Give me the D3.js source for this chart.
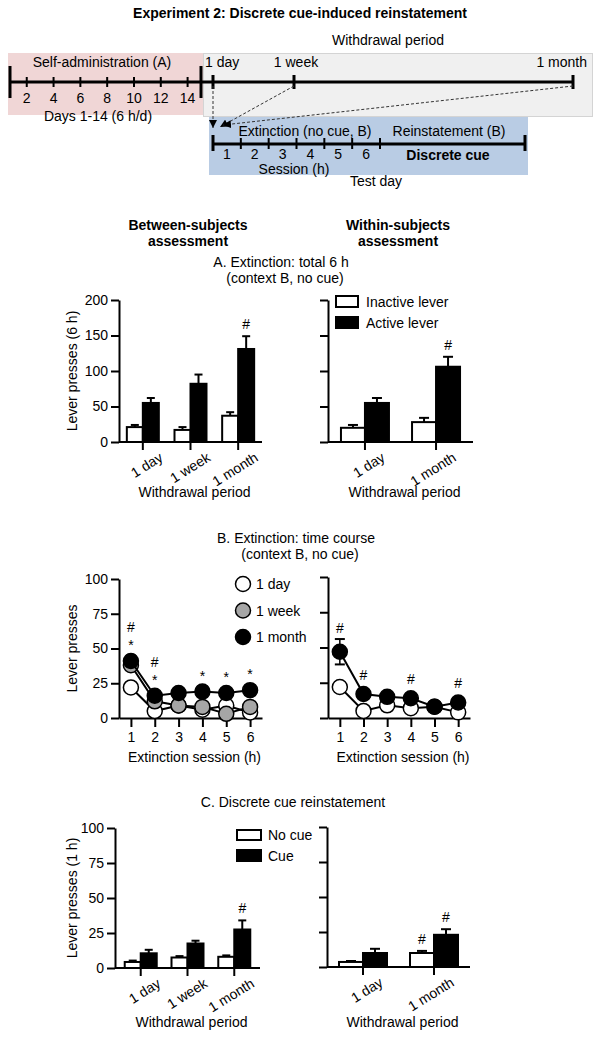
<!DOCTYPE html>
<html>
<head>
<meta charset="utf-8">
<title>Experiment 2: Discrete cue-induced reinstatement</title>
<script src="https://d3js.org/d3.v7.min.js"></script>
<style>
  body { margin: 0; background: #fff; }
  svg { display: block; }
  text { font-family: Arial, 'Liberation Sans', sans-serif; font-size: 14px; fill: #000; }
  .axis path, .axis line { stroke: #000; stroke-width: 2px; }
  .bold { font-weight: bold; }
</style>
</head>
<body>
<script>
// ---------- data ----------
const saDays = [2, 4, 6, 8, 10, 12, 14];
const withdrawalDays = [1, 7, 30];
const withdrawalLabels = ['1 day', '1 week', '1 month'];
const sessionHours = [1, 2, 3, 4, 5, 6];

const periodsBetween = ['1 day', '1 week', '1 month'];
const periodsWithin = ['1 day', '1 month'];

// A. extinction total 6 h
const extBetweenInactive = [21, 17, 37];
const extBetweenInactiveErr = [3, 4, 5];
const extBetweenActive = [55, 82, 131];
const extBetweenActiveErr = [7, 13, 18];
const extWithinInactive = [20, 28];
const extWithinInactiveErr = [4, 6];
const extWithinActive = [55, 106];
const extWithinActiveErr = [7, 14];

// B. extinction time course
const courseDay = [22, 5, 9, 6, 9, 4];
const courseDayErr = [2, 1, 1, 1, 1, 1];
const courseWeek = [38, 12, 9, 8, 3, 8];
const courseWeekErr = [3, 2, 1, 2, 1, 2];
const courseMonth = [41, 16, 18, 19, 18, 20];
const courseMonthErr = [4, 2, 1, 4, 2, 2];
const courseWithinDay = [22, 5, 9, 7, 8, 4];
const courseWithinDayErr = [2, 1, 1, 1, 1, 1];
const courseWithinMonth = [47, 17, 15, 14, 8, 11];
const courseWithinMonthErr = [9, 3, 2, 2, 1, 2];
const courseBetweenSig = [['*', '#'], ['*', '#'], [], ['*'], ['*'], ['*']];
const courseWithinSig = [['#'], ['#'], [], ['#'], [], ['#']];

// C. discrete cue reinstatement
const cueBetweenNoCue = [4.3, 7.5, 8];
const cueBetweenNoCueErr = [1, 1, 1];
const cueBetweenCue = [10.5, 17.5, 27.5];
const cueBetweenCueErr = [2.5, 2, 6.5];
const cueWithinNoCue = [3.6, 10];
const cueWithinNoCueErr = [0.7, 1.5];
const cueWithinCue = [10, 23];
const cueWithinCueErr = [3, 4];

const W = 601, H = 1039;
const svg = d3.select('body').append('svg').attr('width', W).attr('height', H);

svg.append('defs').append('marker')
  .attr('id', 'arrow').attr('viewBox', '0 0 10 10')
  .attr('refX', 10).attr('refY', 5)
  .attr('markerWidth', 8).attr('markerHeight', 8)
  .attr('markerUnits', 'userSpaceOnUse').attr('orient', 'auto')
  .append('path').attr('d', 'M0,0L10,5L0,10z').attr('fill', '#000');

function label(g, x, y, t, anchor, cls) {
  return g.append('text').attr('x', x).attr('y', y)
    .attr('text-anchor', anchor || 'middle').attr('class', cls || null).text(t);
}
function seg(g, x1, y1, x2, y2, w) {
  return g.append('line').attr('x1', x1).attr('y1', y1).attr('x2', x2).attr('y2', y2)
    .attr('stroke', '#000').attr('stroke-width', w || 2);
}

// ---------- title + schematic ----------
label(svg, 300, 18, 'Experiment 2: Discrete cue-induced reinstatement', 'middle', 'bold');

const sch = svg.append('g');
sch.append('rect').attr('x', 8).attr('y', 53).attr('width', 195).attr('height', 62).attr('fill', '#f0d6d6');
sch.append('rect').attr('x', 203.5).attr('y', 53.5).attr('width', 389).attr('height', 63).attr('fill', '#f0f0f0').attr('stroke', '#d4d4d4');
sch.append('rect').attr('x', 209).attr('y', 117).attr('width', 319).attr('height', 58).attr('fill', '#b9cce4');

const xSA = d3.scaleLinear().domain([0.75, 15]).range([10, 201]);
const xW = d3.scaleLinear().domain(withdrawalDays).range([213, 294, 573]);
const xS = d3.scaleLinear().domain([0, 6]).range([213, 380]);
const reinstEnd = 525;

seg(sch, xSA(0.75), 82, xW(30), 82, 3);
seg(sch, xSA(0.75), 66, xSA(0.75), 98, 3);
seg(sch, xSA(15), 66, xSA(15), 98, 3);
saDays.forEach(d => {
  seg(sch, xSA(d), 77, xSA(d), 87, 2);
  label(sch, xSA(d), 103, d);
});
withdrawalDays.forEach(d => seg(sch, xW(d), 75, xW(d), 89, 3));
label(sch, 102, 67, 'Self-administration (A)');
label(sch, 98, 121, 'Days 1-14 (6 h/d)');
label(sch, 205, 67, withdrawalLabels[0], 'start');
label(sch, xW(7) + 2, 67, withdrawalLabels[1]);
label(sch, 587, 67, withdrawalLabels[2], 'end');
label(sch, 388, 45, 'Withdrawal period');

seg(sch, xS(0), 144, reinstEnd, 144, 3);
seg(sch, xS(0), 135, xS(0), 151, 3);
seg(sch, reinstEnd, 135, reinstEnd, 151, 3);
sessionHours.forEach(h => {
  seg(sch, xS(h), 138, xS(h), 149, 2);
  label(sch, xS(h - 0.5), 159, h);
});
label(sch, 305, 136, 'Extinction (no cue, B)');
label(sch, 449, 136, 'Reinstatement (B)');
label(sch, 448, 160, 'Discrete cue', 'middle', 'bold');
label(sch, 294, 174, 'Session (h)');
label(sch, 376, 186, 'Test day');

const arrowTargets = [[213, 128], [220, 127], [223, 125]];
withdrawalDays.forEach((d, i) => {
  sch.append('line')
    .attr('x1', xW(d)).attr('y1', 86)
    .attr('x2', arrowTargets[i][0]).attr('y2', arrowTargets[i][1])
    .attr('stroke', '#333').attr('stroke-width', 1)
    .attr('stroke-dasharray', '3,2')
    .attr('marker-end', 'url(#arrow)');
});

// ---------- section headers ----------
label(svg, 188, 230, 'Between-subjects', 'middle', 'bold');
label(svg, 188, 246, 'assessment', 'middle', 'bold');
label(svg, 398, 230, 'Within-subjects', 'middle', 'bold');
label(svg, 398, 246, 'assessment', 'middle', 'bold');

label(svg, 281, 267, 'A. Extinction: total 6 h');
label(svg, 285, 283, '(context B, no cue)');
label(svg, 296, 543, 'B. Extinction: time course');
label(svg, 300, 559, '(context B, no cue)');
label(svg, 293, 807, 'C. Discrete cue reinstatement');

// ---------- helpers ----------
function yAxis(g, y, x, ticks, showLabels) {
  const ax = d3.axisLeft(y).tickValues(ticks).tickSize(8).tickSizeOuter(0).tickPadding(3);
  if (!showLabels) ax.tickFormat('');
  g.append('g').attr('class', 'axis').attr('transform', `translate(${x},0)`).call(ax)
    .attr('font-size', null).attr('font-family', null);
}
function yTitle(g, x, y, t) {
  g.append('text').attr('transform', `translate(${x},${y}) rotate(-90)`)
    .attr('text-anchor', 'middle').text(t);
}
function sigMark(g, x, center, t) {
  // center is the vertical centre of the glyph
  g.append('text').attr('x', x).attr('y', center + (t === '*' ? 8 : 5))
    .attr('text-anchor', 'middle').text(t);
}

function barPanel(cfg) {
  const g = svg.append('g');
  const y = d3.scaleLinear().domain([0, cfg.yMax]).range([cfg.y0, cfg.y1]);
  const x = d3.scalePoint().domain(cfg.cats).range([cfg.x0, cfg.x1]).padding(cfg.pad);
  const bw = cfg.barW;
  const cap = cfg.capW;

  cfg.series.forEach((s, si) => {
    const off = si === 0 ? -bw : 0;
    cfg.cats.forEach((c, ci) => {
      const bx = x(c) + off;
      const v = s.values[ci], e = s.errs[ci];
      seg(g, bx + bw / 2, y(v), bx + bw / 2, y(v + e), 2);
      seg(g, bx + bw / 2 - cap / 2, y(v + e), bx + bw / 2 + cap / 2, y(v + e), 2);
      g.append('rect').attr('x', bx).attr('y', y(v))
        .attr('width', bw).attr('height', cfg.y0 - y(v))
        .attr('fill', s.fill).attr('stroke', '#000').attr('stroke-width', 2);
      if (s.sig && s.sig[ci]) sigMark(g, bx + bw / 2, y(v + e) - 12, s.sig[ci]);
    });
  });

  yAxis(g, y, cfg.x0, cfg.ticks, cfg.yLabels);
  seg(g, cfg.x0, cfg.y0, cfg.x1, cfg.y0, 2);
  cfg.cats.forEach(c => {
    seg(g, x(c), cfg.y0, x(c), cfg.y0 + 8, 2);
    g.append('text')
      .attr('transform', `translate(${x(c) + 21},${cfg.y0 + 18}) rotate(-32)`)
      .attr('text-anchor', 'end').text(c);
  });
  label(g, (cfg.x0 + cfg.x1) / 2 + 4, cfg.titleY, 'Withdrawal period');
  if (cfg.yTitle) yTitle(g, 77, (cfg.y0 + cfg.y1) / 2, cfg.yTitle);
}

function linePanel(cfg) {
  const g = svg.append('g');
  const y = d3.scaleLinear().domain([0, 100]).range([cfg.y0, cfg.y1]);
  const x = d3.scaleLinear().domain([0.5, 6.5]).range([cfg.x0, cfg.x1]);

  yAxis(g, y, cfg.x0, [0, 25, 50, 75, 100], cfg.yLabels);
  g.append('g').attr('class', 'axis').attr('transform', `translate(0,${cfg.y0})`)
    .call(d3.axisBottom(x).tickValues(sessionHours).tickFormat(d3.format('d'))
      .tickSize(9).tickSizeOuter(0).tickPadding(5))
    .attr('font-size', null).attr('font-family', null);

  const line = d3.line().x((d, i) => x(sessionHours[i])).y(d => y(d));
  cfg.series.forEach(s => {
    const sg = g.append('g');
    s.values.forEach((v, i) => {
      const cx = x(sessionHours[i]);
      const e = s.errs[i];
      seg(sg, cx, y(v - e), cx, y(v + e), 1.5);
      seg(sg, cx - 5, y(v + e), cx + 5, y(v + e), 2);
      seg(sg, cx - 5, y(v - e), cx + 5, y(v - e), 2);
    });
    sg.append('path').datum(s.values).attr('d', line)
      .attr('fill', 'none').attr('stroke', '#000').attr('stroke-width', 2);
    sg.selectAll('circle').data(s.values).join('circle')
      .attr('cx', (d, i) => x(sessionHours[i])).attr('cy', d => y(d)).attr('r', 7.5)
      .attr('fill', s.fill).attr('stroke', '#000').attr('stroke-width', 1.5);
  });

  const top = cfg.series[cfg.series.length - 1];
  cfg.sig.forEach((marks, i) => {
    const cx = x(sessionHours[i]);
    const base = Math.min(y(top.values[i] + top.errs[i]), y(top.values[i]) - 8);
    marks.forEach((m, k) => sigMark(g, cx, base - 11 - k * 15, m));
  });

  label(g, (cfg.x0 + cfg.x1) / 2 + 4, cfg.y0 + 44, 'Extinction session (h)');
  if (cfg.yTitle) yTitle(g, 77, (cfg.y0 + cfg.y1) / 2, cfg.yTitle);
}

// ---------- panel A ----------
barPanel({
  cats: periodsBetween, x0: 119, x1: 262, pad: 0.5, y0: 442, y1: 300, yMax: 200,
  ticks: [0, 50, 100, 150, 200], yLabels: true, barW: 16, capW: 8, titleY: 497,
  yTitle: 'Lever presses (6 h)',
  series: [
    { values: extBetweenInactive, errs: extBetweenInactiveErr, fill: '#fff' },
    { values: extBetweenActive, errs: extBetweenActiveErr, fill: '#000', sig: [null, null, '#'] }
  ]
});
barPanel({
  cats: periodsWithin, x0: 328, x1: 473, pad: 0.52, y0: 442, y1: 300, yMax: 200,
  ticks: [0, 50, 100, 150, 200], yLabels: false, barW: 24, capW: 10, titleY: 497,
  series: [
    { values: extWithinInactive, errs: extWithinInactiveErr, fill: '#fff' },
    { values: extWithinActive, errs: extWithinActiveErr, fill: '#000', sig: [null, '#'] }
  ]
});
const legA = svg.append('g');
legA.append('rect').attr('x', 336).attr('y', 296).attr('width', 22).attr('height', 11)
  .attr('fill', '#fff').attr('stroke', '#000').attr('stroke-width', 2);
legA.append('rect').attr('x', 336).attr('y', 317).attr('width', 22).attr('height', 11)
  .attr('fill', '#000').attr('stroke', '#000').attr('stroke-width', 2);
label(legA, 366, 307, 'Inactive lever', 'start');
label(legA, 366, 328, 'Active lever', 'start');

// ---------- panel B ----------
linePanel({
  x0: 119, x1: 262, y0: 718, y1: 579, yLabels: true, yTitle: 'Lever presses',
  sig: courseBetweenSig,
  series: [
    { values: courseDay, errs: courseDayErr, fill: '#fff' },
    { values: courseWeek, errs: courseWeekErr, fill: '#a6a6a6' },
    { values: courseMonth, errs: courseMonthErr, fill: '#000' }
  ]
});
linePanel({
  x0: 328, x1: 470, y0: 718, y1: 577, yLabels: false,
  sig: courseWithinSig,
  series: [
    { values: courseWithinDay, errs: courseWithinDayErr, fill: '#fff' },
    { values: courseWithinMonth, errs: courseWithinMonthErr, fill: '#000' }
  ]
});
const legB = svg.append('g');
[['#fff', withdrawalLabels[0]], ['#a6a6a6', withdrawalLabels[1]], ['#000', withdrawalLabels[2]]]
  .forEach(([f, t], i) => {
    const cy = 584 + i * 26.5;
    legB.append('circle').attr('cx', 243).attr('cy', cy).attr('r', 7.5)
      .attr('fill', f).attr('stroke', '#000').attr('stroke-width', 1.5);
    label(legB, 256, cy + 5, t, 'start');
  });

// ---------- panel C ----------
barPanel({
  cats: periodsBetween, x0: 115, x1: 260, pad: 0.55, y0: 968, y1: 828, yMax: 100,
  ticks: [0, 25, 50, 75, 100], yLabels: true, barW: 16, capW: 8, titleY: 1027,
  yTitle: 'Lever presses (1 h)',
  series: [
    { values: cueBetweenNoCue, errs: cueBetweenNoCueErr, fill: '#fff' },
    { values: cueBetweenCue, errs: cueBetweenCueErr, fill: '#000', sig: [null, null, '#'] }
  ]
});
barPanel({
  cats: periodsWithin, x0: 327, x1: 470, pad: 0.507, y0: 967, y1: 827, yMax: 100,
  ticks: [0, 25, 50, 75, 100], yLabels: false, barW: 24, capW: 10, titleY: 1027,
  series: [
    { values: cueWithinNoCue, errs: cueWithinNoCueErr, fill: '#fff', sig: [null, '#'] },
    { values: cueWithinCue, errs: cueWithinCueErr, fill: '#000', sig: [null, '#'] }
  ]
});
const legC = svg.append('g');
legC.append('rect').attr('x', 237).attr('y', 830).attr('width', 24).attr('height', 10)
  .attr('fill', '#fff').attr('stroke', '#000').attr('stroke-width', 2);
legC.append('rect').attr('x', 237).attr('y', 850).attr('width', 24).attr('height', 11)
  .attr('fill', '#000').attr('stroke', '#000').attr('stroke-width', 2);
label(legC, 268, 840, 'No cue', 'start');
label(legC, 268, 861, 'Cue', 'start');
</script>
</body>
</html>
